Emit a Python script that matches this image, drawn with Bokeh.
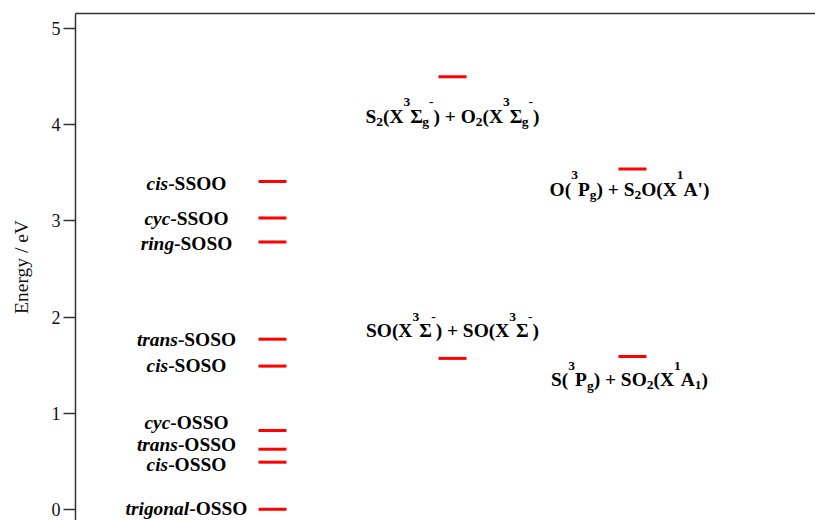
from bokeh.plotting import figure
from bokeh.models import LinearAxis, FixedTicker, ColumnDataSource, Range1d
from bokeh.core.properties import value
from bokeh.embed import file_html
from bokeh.resources import INLINE

# ---------------- data ----------------
# isomers (left column): *italic* prefix, energies in eV
isomer_labels = ["*cis*-SSOO", "*cyc*-SSOO", "*ring*-SOSO", "*trans*-SOSO", "*cis*-SOSO",
                 "*cyc*-OSSO", "*trans*-OSSO", "*cis*-OSSO", "*trigonal*-OSSO"]
isomer_energy = [3.41, 3.03, 2.78, 1.77, 1.49, 0.82, 0.625, 0.49, 0.0]

# dissociation channels: _{sub}, ^{sup}
channel_labels = ["S_{2}(X^{3}Σ_{g}^{-}) + O_{2}(X^{3}Σ_{g}^{-})",
                  "SO(X^{3}Σ^{-}) + SO(X^{3}Σ^{-})",
                  "O(^{3}P_{g}) + S_{2}O(X^{1}A')",
                  "S(^{3}P_{g}) + SO_{2}(X^{1}A_{1})"]
channel_energy = [4.50, 1.57, 3.54, 1.59]
channel_column = [1, 1, 2, 2]

y_ticks = [0, 1, 2, 3, 4, 5]

# ---------------- layout / style ----------------
COL_PX = 180.0                     # px between columns
LEVEL_HALF = 14.0 / COL_PX         # half length of a level bar
MAIN = 19.4
SMALL = 13.5
BASE = 0.33 * MAIN - 7.0
SUP = -14.0
SUB = 5.5
FONT = "Liberation Serif"

isomer_label_dx = -86.0
isomer_label_dy = [3, 1, 2, 1, 0.5, -7, -4.5, 3, 0]
channel_label_dx = [0, 0, -3, -3]
channel_label_dy = [40, -27, 21, 24]

BOLD = {" ": 250, "'": 278, "(": 333, ")": 333, "+": 570, "-": 333, "A": 722, "O": 778,
        "P": 611, "S": 556, "X": 722, "Σ": 620, "g": 500}
BOLD_IT = {"c": 444, "i": 278, "s": 389, "y": 444, "r": 389, "n": 556, "g": 500, "t": 278,
           "a": 500, "o": 500, "l": 278, "-": 333}


def parse(s):
    segs, buf, ital, i = [], "", False, 0

    def flush():
        nonlocal buf
        if buf:
            segs.append((buf, "it" if ital else "n"))
            buf = ""
    while i < len(s):
        c = s[i]
        if c == "*":
            flush()
            ital = not ital
            i += 1
            continue
        if c in "_^" and i + 1 < len(s) and s[i + 1] == "{":
            flush()
            j = s.index("}", i)
            segs.append((s[i + 2:j], "sub" if c == "_" else "sup"))
            i = j + 1
            continue
        buf += c
        i += 1
    flush()
    return segs


def width(text, kind):
    table = BOLD_IT if kind == "it" else BOLD
    size = SMALL if kind in ("sub", "sup") else MAIN
    return sum(table.get(ch, 500) for ch in text) * size / 1000.0


srcs = {k: dict(x=[], y=[], text=[], xo=[], yo=[]) for k in ("n", "it", "small")}


def place(label, x, y, dx, dy):
    segs = parse(label)
    total = sum(width(t, k) for t, k in segs)
    cur = dx - total / 2.0
    for t, k in segs:
        key = "small" if k in ("sub", "sup") else k
        yo = dy + BASE + (SUP if k == "sup" else SUB if k == "sub" else 0.0)
        d = srcs[key]
        d["x"].append(x); d["y"].append(y); d["text"].append(t)
        d["xo"].append(cur); d["yo"].append(yo)
        cur += width(t, k)


for lab, e, dy in zip(isomer_labels, isomer_energy, isomer_label_dy):
    place(lab, 0, e, isomer_label_dx, dy)
for lab, e, c, dx, dy in zip(channel_labels, channel_energy, channel_column,
                             channel_label_dx, channel_label_dy):
    place(lab, c, e, dx, dy)

# ---------------- figure ----------------
FIG_W, FIG_H = 815, 520
LEFT, TOP = 75, 13
FRAME_W = FIG_W - LEFT
FRAME_H = FIG_H - TOP
PX_PER_EV = 96.1
y_top = 5.159
x_start = -(272 - LEFT) / COL_PX
x_end = x_start + FRAME_W / COL_PX
p = figure(width=FIG_W, height=FIG_H, output_backend="svg", toolbar_location=None,
           x_range=Range1d(x_start, x_end),
           y_range=Range1d(y_top - FRAME_H / PX_PER_EV, y_top),
           x_axis_type=None, y_axis_type=None,
           min_border_left=LEFT, min_border_right=0, min_border_top=TOP, min_border_bottom=0)
p.outline_line_color = None
p.background_fill_color = "white"
p.border_fill_color = "white"

yaxis = LinearAxis(ticker=FixedTicker(ticks=y_ticks, minor_ticks=[]), axis_label="Energy / eV")
yaxis.axis_line_width = 1.5
yaxis.axis_line_color = "#333333"
yaxis.major_tick_line_color = "#333333"
yaxis.major_tick_line_width = 1.5
yaxis.major_tick_out = 12
yaxis.major_tick_in = 0
yaxis.minor_tick_line_color = None
yaxis.major_label_standoff = 3
yaxis.major_label_text_font = FONT
yaxis.major_label_text_font_size = "18px"
yaxis.major_label_text_color = "#111111"
yaxis.axis_label_text_font = FONT
yaxis.axis_label_text_font_size = "19.5px"
yaxis.axis_label_text_font_style = "normal"
yaxis.axis_label_text_color = "#111111"
yaxis.axis_label_standoff = 17
p.add_layout(yaxis, "left")

top = LinearAxis(ticker=FixedTicker(ticks=[], minor_ticks=[]))
top.axis_line_width = 1.5
top.axis_line_color = "#333333"
top.major_tick_line_color = None
top.minor_tick_line_color = None
top.major_label_text_font_size = "0px"
top.major_label_standoff = 0
top.major_tick_out = 0
top.major_tick_in = 0
p.add_layout(top, "above")

# level bars
lev_x = [0] * len(isomer_energy) + channel_column
lev_y = isomer_energy + channel_energy
p.segment(x0=[c - LEVEL_HALF for c in lev_x], y0=lev_y,
          x1=[c + LEVEL_HALF for c in lev_x], y1=lev_y,
          line_color="#ff0000", line_width=3, line_cap="butt")

styles = {"n": ("bold", MAIN), "it": ("bold italic", MAIN), "small": ("bold", SMALL)}
for key, (fs, size) in styles.items():
    src = ColumnDataSource(srcs[key])
    p.text(x="x", y="y", text="text", x_offset="xo", y_offset="yo", source=src,
           text_font=value(FONT), text_font_style=fs, text_font_size=f"{size}px",
           text_color="#000000", text_align="left", text_baseline="alphabetic")

open("out.html", "w").write(file_html(p, INLINE))
